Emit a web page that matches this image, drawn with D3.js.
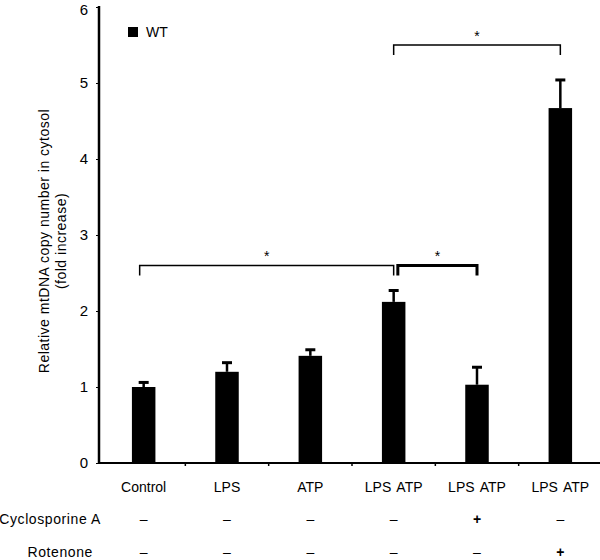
<!DOCTYPE html>
<html lang="en">
<head>
  <meta charset="UTF-8" />
  <title>Relative mtDNA copy number in cytosol</title>
  <style>
    body { margin: 0; background: #fff; }
    svg { display: block; font-family: "Liberation Sans", Arial, sans-serif; }
  </style>
</head>
<body>
  <svg id="chart"></svg>

  <script src="https://d3js.org/d3.v7.min.js"></script>
  <script>
    const categories = ["Control", "LPS", "ATP", "LPS ATP", "LPS ATP", "LPS ATP"];
    const wtValues = [1.0, 1.2, 1.41, 2.12, 1.03, 4.67];
    const wtErrors = [0.06, 0.12, 0.08, 0.15, 0.23, 0.37];
    const cyclosporine = ["–", "–", "–", "–", "+", "–"];
    const rotenone = ["–", "–", "–", "–", "–", "+"];
    const yTicks = [0, 1, 2, 3, 4, 5, 6];
    // significance brackets: [from index, to index, level]
    const brackets = [[0, 3, 2.6], [3.05, 4, 2.6], [3, 5, 5.5]];

    const W = 600, H = 560;
    const svg = d3.select("#chart").attr("width", W).attr("height", H);

    const x = d3.scaleBand()
      .domain(d3.range(categories.length))
      .range([102, 602])
      .padding(0);

    const y = d3.scaleLinear()
      .domain([0, 6])
      .range([463, 7]);

    const barW = 23.5;
    const cx = i => x(i) + x.bandwidth() / 2;

    // y axis
    const yAxis = svg.append("g")
      .attr("transform", "translate(99,0)")
      .call(d3.axisLeft(y).tickValues(yTicks).tickSize(3).tickFormat(d3.format("d")));
    yAxis.select(".domain").attr("stroke-width", 2.5).attr("d", `M0,${y(6) - 1}V${y(0) + 1}`);
    yAxis.selectAll("text").attr("font-size", 15).attr("x", -11)
      .attr("font-family", "Liberation Sans, Arial, sans-serif");
    // keep the top label inside the picture
    yAxis.selectAll(".tick").filter(d => d === 6).select("text").attr("dy", "0.5em");

    // x axis line with ticks at band boundaries
    svg.append("line")
      .attr("x1", 99).attr("x2", 602)
      .attr("y1", y(0)).attr("y2", y(0))
      .attr("stroke", "#000").attr("stroke-width", 2);
    svg.selectAll(".xtick")
      .data(d3.range(1, categories.length))
      .join("line")
      .attr("x1", i => x(i)).attr("x2", i => x(i))
      .attr("y1", y(0)).attr("y2", y(0) + 3)
      .attr("stroke", "#000").attr("stroke-width", 1.5);

    // bars
    svg.selectAll(".bar")
      .data(wtValues)
      .join("rect")
      .attr("x", (d, i) => cx(i) - barW / 2)
      .attr("y", d => y(d))
      .attr("width", barW)
      .attr("height", d => y(0) - y(d))
      .attr("fill", "#000");

    // error bars
    svg.selectAll(".err")
      .data(wtValues)
      .join("line")
      .attr("x1", (d, i) => cx(i)).attr("x2", (d, i) => cx(i))
      .attr("y1", d => y(d)).attr("y2", (d, i) => y(d + wtErrors[i]))
      .attr("stroke", "#000").attr("stroke-width", 2.5);
    svg.selectAll(".cap")
      .data(wtValues)
      .join("line")
      .attr("x1", (d, i) => cx(i) - 5).attr("x2", (d, i) => cx(i) + 5)
      .attr("y1", (d, i) => y(d + wtErrors[i])).attr("y2", (d, i) => y(d + wtErrors[i]))
      .attr("stroke", "#000").attr("stroke-width", 3);

    // significance brackets
    brackets.forEach(([a, b, lvl], k) => {
      const x1 = x(Math.floor(a)) + x.bandwidth() / 2 + (a % 1) * x.bandwidth() + (k === 0 ? -4 : 0);
      const x2 = cx(b);
      const yy = y(lvl);
      svg.append("path")
        .attr("d", `M${x1},${yy + 10}V${yy}H${x2}V${yy + 10}`)
        .attr("fill", "none").attr("stroke", "#000")
        .attr("stroke-width", k === 1 ? 3 : 1.5);
      svg.append("text")
        .attr("x", (x1 + x2) / 2).attr("y", yy - 4)
        .attr("text-anchor", "middle")
        .attr("font-size", 14)
        .text("*");
    });

    // category labels
    svg.selectAll(".cat")
      .data(categories)
      .join("text")
      .attr("x", (d, i) => cx(i))
      .attr("y", 492)
      .attr("text-anchor", "middle")
      .attr("font-size", 14)
      .attr("word-spacing", 2)
      .text(d => d);

    // treatment rows
    const rows = [["Cyclosporine A", cyclosporine, 527, 101], ["Rotenone", rotenone, 560, 93]];
    rows.forEach(([name, vals, yy, right]) => {
      svg.append("text")
        .attr("x", right).attr("y", yy - 3)
        .attr("text-anchor", "end")
        .attr("font-size", 14)
        .attr("letter-spacing", 0.6)
        .text(name);
      svg.selectAll(null)
        .data(vals)
        .join("text")
        .attr("x", (d, i) => cx(i))
        .attr("y", yy - 3)
        .attr("text-anchor", "middle")
        .attr("font-size", 14)
        .attr("font-weight", d => d === "+" ? "bold" : "normal")
        .text(d => d);
    });

    // y label
    svg.append("text")
      .attr("transform", `translate(49,${241}) rotate(-90)`)
      .attr("text-anchor", "middle")
      .attr("font-size", 14)
      .attr("letter-spacing", 0.5)
      .text("Relative mtDNA copy number in cytosol");
    svg.append("text")
      .attr("transform", `translate(66,${241}) rotate(-90)`)
      .attr("text-anchor", "middle")
      .attr("font-size", 14)
      .attr("letter-spacing", 0.5)
      .text("(fold increase)");

    // legend
    svg.append("rect")
      .attr("x", 128).attr("y", 27).attr("width", 10).attr("height", 10)
      .attr("fill", "#000");
    svg.append("text")
      .attr("x", 146).attr("y", 37)
      .attr("font-size", 14)
      .text("WT");
  </script>
</body>
</html>
